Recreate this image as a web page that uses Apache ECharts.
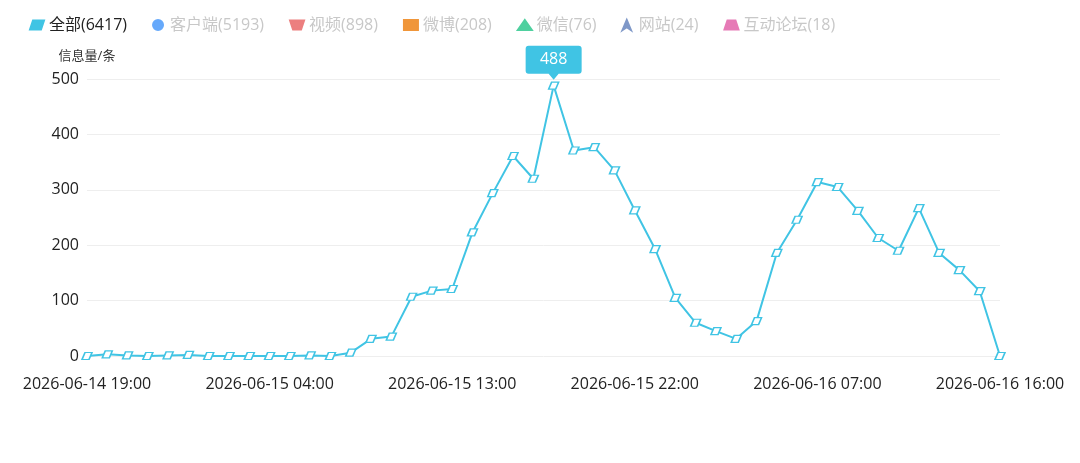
<!DOCTYPE html>
<html><head><meta charset="utf-8">
<script src="https://cdn.jsdelivr.net/npm/echarts@6/dist/echarts.min.js"></script>
<style>html,body{margin:0;padding:0;background:#fff}#c{width:1080px;height:463px}</style>
</head><body><div id="c"></div>
<script>
const categories = [
 '2026-06-14 19:00','2026-06-14 20:00','2026-06-14 21:00','2026-06-14 22:00','2026-06-14 23:00',
 '2026-06-15 00:00','2026-06-15 01:00','2026-06-15 02:00','2026-06-15 03:00','2026-06-15 04:00',
 '2026-06-15 05:00','2026-06-15 06:00','2026-06-15 07:00','2026-06-15 08:00','2026-06-15 09:00',
 '2026-06-15 10:00','2026-06-15 11:00','2026-06-15 12:00','2026-06-15 13:00','2026-06-15 14:00',
 '2026-06-15 15:00','2026-06-15 16:00','2026-06-15 17:00','2026-06-15 18:00','2026-06-15 19:00',
 '2026-06-15 20:00','2026-06-15 21:00','2026-06-15 22:00','2026-06-15 23:00','2026-06-16 00:00',
 '2026-06-16 01:00','2026-06-16 02:00','2026-06-16 03:00','2026-06-16 04:00','2026-06-16 05:00',
 '2026-06-16 06:00','2026-06-16 07:00','2026-06-16 08:00','2026-06-16 09:00','2026-06-16 10:00',
 '2026-06-16 11:00','2026-06-16 12:00','2026-06-16 13:00','2026-06-16 14:00','2026-06-16 15:00',
 '2026-06-16 16:00'];
const allValues = [0,3,1,0,1,2,0,0,0,0,0,1,0,6,31,35,107,118,121,223,294,361,320,488,371,377,335,263,193,105,60,45,31,63,186,246,314,305,262,213,190,267,186,155,117,0];
const seriesNames = ['全部(6417)','客户端(5193)','视频(898)','微博(208)','微信(76)','网站(24)','互动论坛(18)'];
const seriesColors = ['#40c4e4','#66a9fb','#ec7f7f','#f0963a','#4fd09f','#7f98c8','#e67ab6'];
const legendIcons = [
 'path://M3,0 L14,0 L11,9 L0,9 Z',
 'circle',
 'path://M0,0 L14,0 L11,9 L3,9 Z',
 'rect',
 'triangle',
 'path://M5,0 L10,12 L5,8.5 L0,12 Z',
 'path://M3,0 L11,0 L14,9 L0,9 Z'
];
const font = '"Open Sans","Noto Sans CJK SC",sans-serif';
const chart = echarts.init(document.getElementById('c'));
const series = seriesNames.map((n,i)=>({
  name:n, type:'line', data: i===0 ? allValues : [],
  color: seriesColors[i],
  symbol:'path://M3,0 L10,0 L7,7 L0,7 Z', symbolSize:[10,7], showAllSymbol:true,
  itemStyle:{color:'#fff', borderColor:seriesColors[i], borderWidth:1.4},
  lineStyle:{color:seriesColors[i], width:2},
  emphasis:{disabled:true},
  markPoint: i===0 ? {
    data:[{type:'max'}],
    symbol:'path://M3,0 H53 Q56,0 56,3 V25 Q56,28 53,28 H33 L28,34 L23,28 H3 Q0,28 0,25 V3 Q0,0 3,0 Z',
    symbolSize:[56,34], symbolOffset:[0,-23],
    itemStyle:{color:'#40c4e4', borderWidth:0},
    label:{color:'#fff', fontSize:16, fontFamily:font, offset:[0,-3]}
  } : undefined
}));
chart.setOption({
  animation:false,
  legend:{
    left:24, top:12, itemWidth:14, itemHeight:10, itemGap:25,
    textStyle:{fontSize:16, fontFamily:font, color:'#c8c8c8'},
    data: seriesNames.map((n,i)=>({name:n, icon:legendIcons[i], itemStyle:{color:seriesColors[i]}, textStyle:{color: i===0?'#222':'#c8c8c8'}}))
  },
  grid:{left:87, right:80, top:79, bottom:107},
  xAxis:{
    type:'category', boundaryGap:false, data:categories,
    axisLine:{show:false}, axisTick:{show:false},
    axisLabel:{interval:8, color:'#222', fontSize:16, fontFamily:font, margin:20}
  },
  yAxis:{
    type:'value', min:0, max:500, interval:100,
    name:'信息量/条', nameGap:16, nameTextStyle:{color:'#333', fontSize:13, fontFamily:font, align:'center'},
    axisLine:{show:false}, axisTick:{show:false},
    axisLabel:{color:'#222', fontSize:16, fontFamily:font, margin:8},
    splitLine:{lineStyle:{color:'#eeeeee'}}
  },
  series
});
</script></body></html>
